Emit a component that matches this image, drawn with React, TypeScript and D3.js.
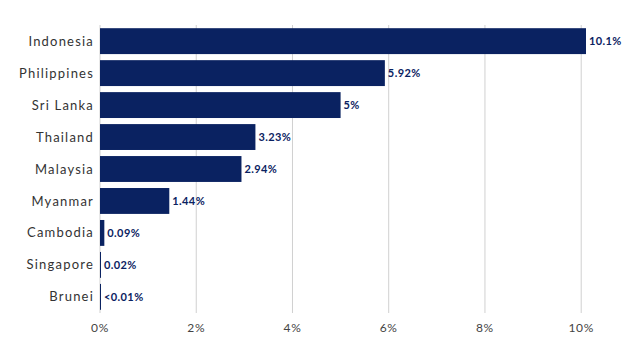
import React, { useEffect, useRef } from "react";
import * as d3 from "d3";

const countries = ["Indonesia", "Philippines", "Sri Lanka", "Thailand", "Malaysia", "Myanmar", "Cambodia", "Singapore", "Brunei"];
const values = [10.1, 5.92, 5, 3.23, 2.94, 1.44, 0.09, 0.02, 0.005];
const valueLabels = ["10.1%", "5.92%", "5%", "3.23%", "2.94%", "1.44%", "0.09%", "0.02%", "<0.01%"];
const ticks = [0, 2, 4, 6, 8, 10];

const navy = "#0a2261";

export default function App() {
  const svgRef = useRef(null);

  useEffect(() => {
    const svg = d3.select(svgRef.current);
    const width = 640;
    const height = 360;
    const margin = { top: 25, right: 54, bottom: 47, left: 100 };

    svg.selectAll("*").remove();

    const data = countries.map((c, i) => ({ name: c, value: values[i], label: valueLabels[i] }));

    const x = d3.scaleLinear().domain([0, 10.1]).range([margin.left, width - margin.right]);
    const y = d3
      .scaleBand()
      .domain(countries)
      .range([margin.top, height - margin.bottom])
      .paddingInner(0.19)
      .paddingOuter(0.1);

    // grid
    svg
      .append("g")
      .selectAll("line")
      .data(ticks)
      .enter()
      .append("line")
      .attr("x1", (d) => x(d))
      .attr("x2", (d) => x(d))
      .attr("y1", margin.top)
      .attr("y2", height - margin.bottom)
      .attr("stroke", "#d0d0d0")
      .attr("stroke-width", 1);

    // x tick labels
    svg
      .append("g")
      .selectAll("text")
      .data(ticks)
      .enter()
      .append("text")
      .attr("x", (d) => x(d))
      .attr("y", height - margin.bottom + 19)
      .attr("text-anchor", "middle")
      .attr("font-family", "Lato, sans-serif")
      .attr("font-size", 12)
      .attr("letter-spacing", 0.6)
      .attr("fill", "#444")
      .text((d) => d + "%");

    // bars
    svg
      .append("g")
      .selectAll("rect")
      .data(data)
      .enter()
      .append("rect")
      .attr("x", x(0))
      .attr("y", (d) => y(d.name))
      .attr("width", (d) => Math.max(1, x(d.value) - x(0)))
      .attr("height", y.bandwidth())
      .attr("fill", navy);

    // category labels
    svg
      .append("g")
      .selectAll("text")
      .data(data)
      .enter()
      .append("text")
      .attr("x", margin.left - 6)
      .attr("y", (d) => y(d.name) + y.bandwidth() / 2)
      .attr("dy", "0.35em")
      .attr("text-anchor", "end")
      .attr("font-family", "Lato, sans-serif")
      .attr("font-size", 13)
      .attr("letter-spacing", 1.2)
      .attr("fill", "#333")
      .text((d) => d.name);

    // value labels
    svg
      .append("g")
      .selectAll("text")
      .data(data)
      .enter()
      .append("text")
      .attr("x", (d) => Math.max(x(d.value), x(0) + 1) + 3)
      .attr("y", (d) => y(d.name) + y.bandwidth() / 2)
      .attr("dy", "0.35em")
      .attr("font-family", "Lato, sans-serif")
      .attr("font-size", 11)
      .attr("font-weight", "bold")
      .attr("letter-spacing", 0.4)
      .attr("fill", navy)
      .text((d) => d.label);
  }, []);

  return (
    <svg
      ref={svgRef}
      width="640"
      height="360"
      style={{ position: "absolute", left: 0, top: 0, background: "#fff" }}
    />
  );
}
